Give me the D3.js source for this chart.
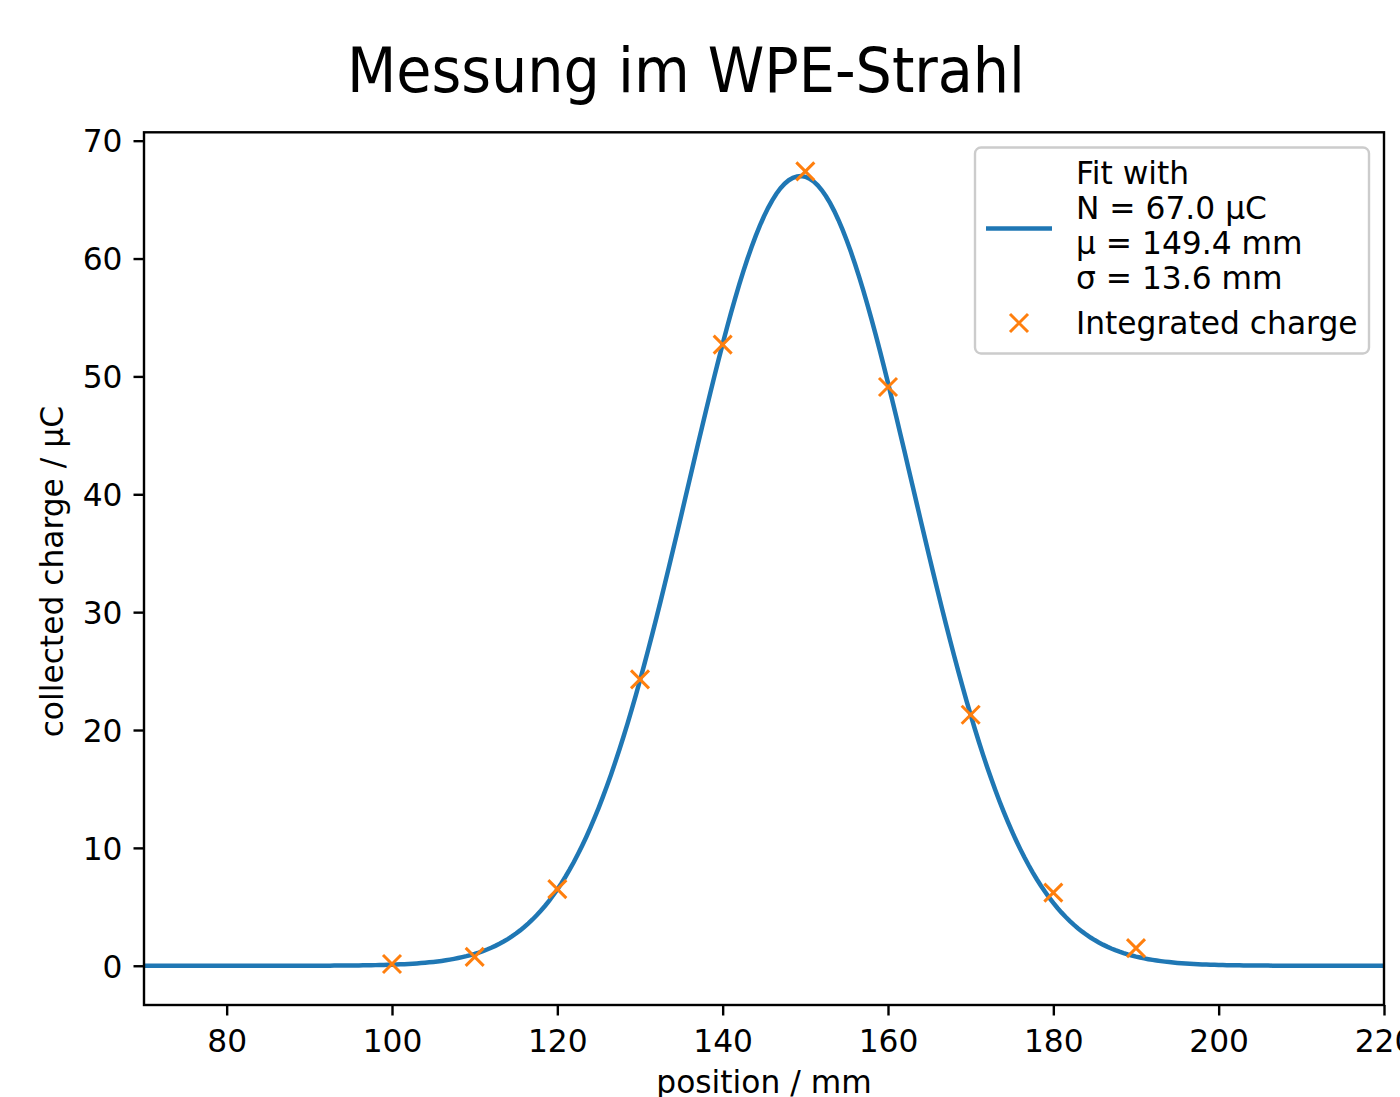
<!DOCTYPE html>
<html lang="de">
<head>
  <meta charset="UTF-8" />
  <title>Messung im WPE-Strahl</title>
  <script src="https://d3js.org/d3.v7.min.js"></script>
  <style>
    html, body { margin: 0; padding: 0; background: #fff; overflow: hidden; }
    svg { display: block; }
    text { font-family: "DejaVu Sans", sans-serif; fill: #000; }
    .title { font-family: "Liberation Sans Narrow", "DejaVu Sans Condensed", "Open Sans", sans-serif; }
  </style>
</head>
<body>
<svg width="1400" height="1097"></svg>
<script>
  // measured points
  const positions = [100, 110, 120, 130, 140, 150, 160, 170, 180, 190];
  const charges = [0.15, 0.75, 6.5, 24.3, 52.7, 67.4, 49.1, 21.3, 6.2, 1.5];

  // fit parameters from the legend
  const fitN = 67.0;
  const fitMu = 149.4;
  const fitSigma = 13.6;

  const xTicks = [80, 100, 120, 140, 160, 180, 200, 220];
  const yTicks = [0, 10, 20, 30, 40, 50, 60, 70];
  const legendLines = ["Fit with", "N = 67.0 µC", "µ = 149.4 mm", "σ = 13.6 mm"];

  const fs = "31.3px";
  const svg = d3.select("svg");
  const box = { left: 144, right: 1384, top: 132.3, bottom: 1005 };

  const x = d3.scaleLinear().domain([70, 220]).range([box.left, box.right]);
  const y = d3.scaleLinear().domain([-3.33, 70.71]).range([box.bottom, box.top]);

  svg.append("text")
    .attr("class", "title")
    .attr("x", 347)
    .attr("y", 92)
    .attr("textLength", 678)
    .attr("lengthAdjust", "spacingAndGlyphs")
    .style("font-size", "62px")
    .text("Messung im WPE-Strahl");

  svg.append("clipPath").attr("id", "clip")
    .append("rect")
    .attr("x", box.left).attr("y", box.top)
    .attr("width", box.right - box.left).attr("height", box.bottom - box.top);

  // fit curve sampled from the gaussian model
  const fitX = d3.range(70, 220.001, 0.5);
  const gauss = v => fitN * Math.exp(-((v - fitMu) ** 2) / (2 * fitSigma ** 2));
  const line = d3.line().x(d => x(d)).y(d => y(gauss(d)));

  svg.append("path")
    .datum(fitX)
    .attr("clip-path", "url(#clip)")
    .attr("d", line)
    .attr("fill", "none")
    .attr("stroke", "#1f77b4")
    .attr("stroke-width", 4.5);

  const mk = 9;
  const drawX = (g, cx, cy) => {
    g.append("path")
      .attr("d", `M${cx - mk},${cy - mk}L${cx + mk},${cy + mk}M${cx - mk},${cy + mk}L${cx + mk},${cy - mk}`)
      .attr("stroke", "#ff7f0e")
      .attr("stroke-width", 3)
      .attr("fill", "none");
  };

  const pts = svg.append("g").attr("clip-path", "url(#clip)");
  positions.forEach((p, i) => drawX(pts, x(p), y(charges[i])));

  // axes
  const xAxis = d3.axisBottom(x).tickValues(xTicks).tickSize(10.5).tickPadding(8).tickFormat(d3.format("d"));
  const gx = svg.append("g").attr("transform", `translate(0,${box.bottom})`).call(xAxis);
  gx.select(".domain").remove();
  gx.selectAll(".tick line").attr("stroke", "#000").attr("stroke-width", 2.4);
  gx.selectAll(".tick text").attr("dy", null).attr("y", 47).style("font-size", fs)
    .style("font-family", "DejaVu Sans, sans-serif").attr("fill", "#000");

  const yAxis = d3.axisLeft(y).tickValues(yTicks).tickSize(10.5).tickPadding(11).tickFormat(d3.format("d"));
  const gy = svg.append("g").attr("transform", `translate(${box.left},0)`).call(yAxis);
  gy.select(".domain").remove();
  gy.selectAll(".tick line").attr("stroke", "#000").attr("stroke-width", 2.4);
  gy.selectAll(".tick text").attr("dy", "0.36em").style("font-size", fs)
    .style("font-family", "DejaVu Sans, sans-serif").attr("fill", "#000");

  svg.append("rect")
    .attr("x", box.left).attr("y", box.top)
    .attr("width", box.right - box.left).attr("height", box.bottom - box.top)
    .attr("fill", "none").attr("stroke", "#000").attr("stroke-width", 2.4);

  svg.append("text")
    .attr("x", (box.left + box.right) / 2)
    .attr("y", 1093)
    .attr("text-anchor", "middle")
    .style("font-size", fs)
    .text("position / mm");

  svg.append("text")
    .attr("transform", `translate(63,${(box.top + box.bottom) / 2 + 3}) rotate(-90)`)
    .attr("text-anchor", "middle")
    .style("font-size", fs)
    .text("collected charge / µC");

  // legend
  const legend = svg.append("g");
  legend.append("rect")
    .attr("x", 975).attr("y", 147.5)
    .attr("width", 394).attr("height", 206)
    .attr("rx", 6).attr("ry", 6)
    .attr("fill", "#fff").attr("fill-opacity", 0.8)
    .attr("stroke", "#cccccc").attr("stroke-width", 2.4);

  legend.append("line")
    .attr("x1", 986).attr("x2", 1052)
    .attr("y1", 228.5).attr("y2", 228.5)
    .attr("stroke", "#1f77b4").attr("stroke-width", 4.5);

  const baseY = [184, 219, 254, 289];
  legendLines.forEach((t, i) => {
    legend.append("text")
      .attr("x", 1076)
      .attr("y", baseY[i])
      .style("font-size", fs)
      .text(t);
  });

  drawX(legend, 1019, 323);
  legend.append("text")
    .attr("x", 1076)
    .attr("y", 333.5)
    .style("font-size", fs)
    .text("Integrated charge");
</script>
</body>
</html>
